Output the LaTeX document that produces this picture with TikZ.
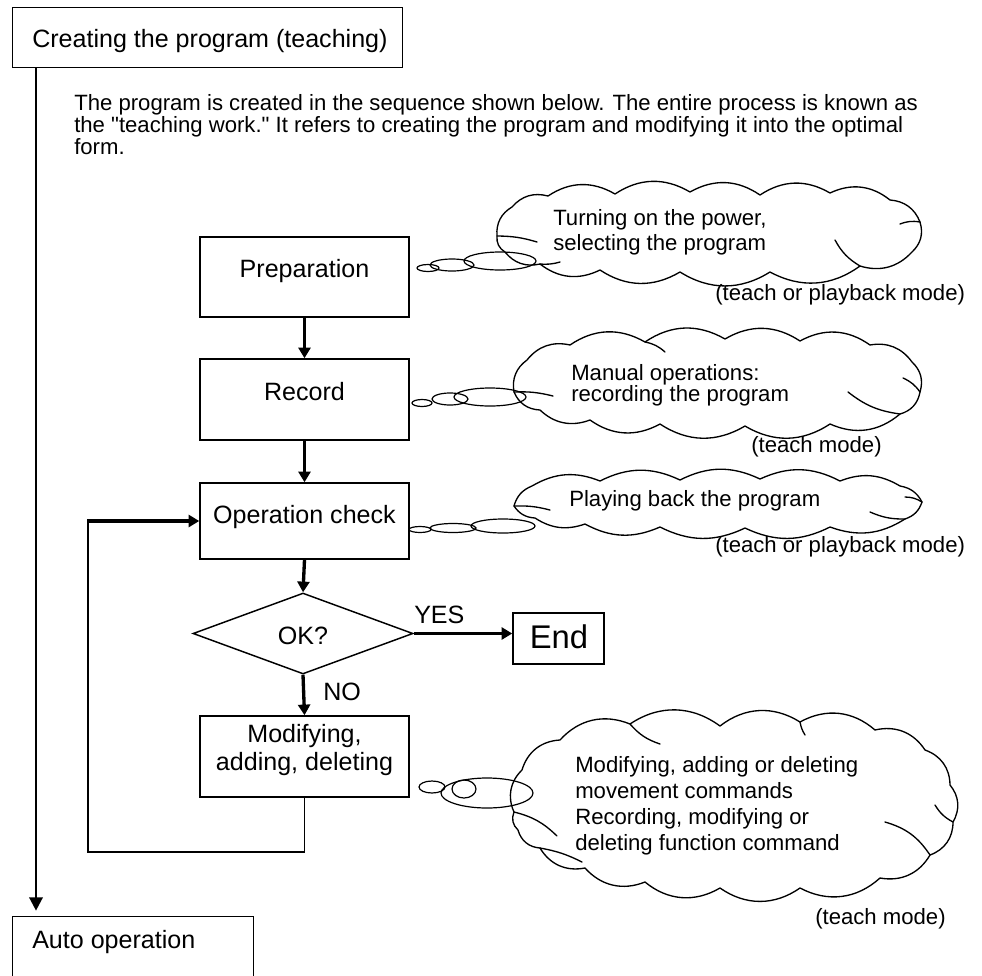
\documentclass[tikz,border=0pt]{standalone}
\usepackage{fontspec}
\setmainfont{Liberation Sans}
\newfontfamily\lsans{Liberation Sans}
\usetikzlibrary{shapes.geometric,arrows.meta}
\begin{document}
\begin{tikzpicture}[x=0.75pt,y=-0.75pt,
  box/.style={draw,line width=1.1pt,inner sep=0pt,minimum width=156.75pt},
  big/.style={font=\lsans\fontsize{18.8}{22}\selectfont,inner sep=0pt},
  small/.style={font=\lsans\fontsize{16.6}{19}\selectfont,inner sep=0pt},
  flow/.style={line width=2.5pt,-{Triangle[length=8pt,width=9pt]}},
  mainarrow/.style={line width=1.8pt,-{Triangle[length=10pt,width=10pt]},shorten >=4pt},
  thinl/.style={line width=1.1pt},
  cloudline/.style={line width=1pt,line cap=round,line join=round},
  tail/.style={line width=0.9pt}
]
\useasboundingbox (0,0) rectangle (982,975);

% title and auto boxes
\node[box,anchor=north west,minimum width=292.5pt,minimum height=45pt] (title) at (12,7) {};
\node[big,anchor=base west] (titletxt) at (32,47) {Creating the program (teaching)};
\node[box,anchor=north west,minimum width=180.75pt,minimum height=60pt] (auto) at (12,916) {};
\node[big,anchor=base west] (autotxt) at (32,948) {Auto operation};
\draw[mainarrow] ([xshift=18pt]title.south west) -- ([xshift=18pt]auto.north west);

% paragraph
\node[small,anchor=base west] (p1) at (74,110) {The program is created in the sequence shown below. The entire process is known as};
\node[small,anchor=base west] (p2) at (74,132) {the "teaching work." It refers to creating the program and modifying it into the optimal};
\node[small,anchor=base west] (p3) at (74,154) {form.};

% flow boxes
\node[box,minimum height=60pt] (prep) at (304.5,277) {};
\node[big,anchor=base] (preptxt) at (304.5,277) {Preparation};
\node[box,minimum height=60.75pt] (rec) at (304.5,399.5) {};
\node[big,anchor=base] (rectxt) at (304.5,400) {Record};
\node[box,minimum height=57pt] (chk) at (304.5,521) {};
\node[big,anchor=base] (chktxt) at (304.5,523) {Operation check};
\node[diamond,draw,line width=1.1pt,inner sep=0pt,minimum width=165pt,minimum height=60.75pt] (ok) at (303,633.5) {};
\node[big,anchor=base] (oktxt) at (303,644) {OK?};
\node[box,minimum height=60.75pt] (mod) at (304.5,756.5) {};
\node[big,anchor=base] (modtxt1) at (304.5,742) {Modifying,};
\node[big,anchor=base] (modtxt2) at (304.5,770) {adding, deleting};
\node[draw,line width=1.1pt,inner sep=0pt,minimum width=68.25pt,minimum height=38.25pt] (endb) at (558.5,638.5) {};
\node[font=\lsans\fontsize{24.6}{28}\selectfont,inner sep=0pt,anchor=base] (endtxt) at (559,648) {End};
\node[big,anchor=base west] (yes) at (414,623) {YES};
\node[big,anchor=base west] (no) at (323,700) {NO};

\draw[flow] (prep.south) -- (rec.north);
\draw[flow] (rec.south) -- (chk.north);
\draw[flow] (chk.south) -- (ok.north);
\draw[flow] (ok.south) -- (mod.north);
\draw[flow] (ok.east) -- (ok.east -| endb.west);
\coordinate (lb) at (88,852);
\draw[thinl] (mod.south) -- (mod.south |- lb) -- (lb) -- (lb |- chk.west);
\draw[flow] ([xshift=-0.5pt]lb |- chk.west) -- (chk.west);

% cloud 1
\draw[cloudline,bend left=32] (497,236) to (512,207) to (548,196) to (615,194) to (690,192) to (760,195) to (830,193) to (890,200) to (920,222) to (912,252) to (860,266) to (770,272) to (680,272) to (600,270) to (540,264) to (505,252) to (497,236);
\draw[cloudline] (497,236) to[bend left=8] (537,242);
\draw[cloudline] (540,264) to[bend right=10] (560,262);
\draw[cloudline] (860,266) to[bend left=15] (835,240);
\draw[cloudline] (920,222) to[bend right=15] (900,224);
\draw[tail] (428,268) ellipse [x radius=11, y radius=3.5];
\draw[tail] (452,265) ellipse [x radius=22, y radius=6];
\draw[tail] (500,261) ellipse [x radius=36, y radius=9];
\node[small,anchor=base west] (c1a) at (553,225) {Turning on the power,};
\node[small,anchor=base west] (c1b) at (553,250) {selecting the program};
\node[small,anchor=base west] (c1m) at (715,300) {(teach or playback mode)};

% cloud 2
\draw[cloudline,bend left=32] (514,392) to (527,360) to (570,345) to (645,342) to (725,339) to (800,341) to (870,345) to (912,362) to (920,392) to (900,414) to (830,424) to (745,426) to (660,424) to (590,420) to (540,410) to (514,392);
\draw[cloudline] (514,392) to[bend left=8] (553,396);
\draw[cloudline] (900,414) to[bend left=15] (848,392);
\draw[cloudline] (920,392) to[bend right=15] (903,378);
\draw[cloudline] (645,342) to[bend left=15] (665,352);
\draw[tail] (422,403) ellipse [x radius=10, y radius=3.5];
\draw[tail] (450,399) ellipse [x radius=18, y radius=6];
\draw[tail] (490,397) ellipse [x radius=36, y radius=9];
\node[small,anchor=base west] (c2a) at (571,380) {Manual operations:};
\node[small,anchor=base west] (c2b) at (571,401) {recording the program};
\node[small,anchor=base west] (c2m) at (751,452) {(teach mode)};

% cloud 3
\draw[cloudline,bend left=26] (514,506) to (532,486) to (600,481) to (680,480) to (760,479) to (840,481) to (900,486) to (922,502) to (905,519) to (830,527) to (745,528) to (660,527) to (585,524) to (535,518) to (514,506);
\draw[cloudline] (514,506) to[bend left=8] (550,510);
\draw[cloudline] (905,519) to[bend left=12] (870,512);
\draw[cloudline] (922,502) to[bend right=15] (905,497);
\draw[tail] (420,529.5) ellipse [x radius=11, y radius=3];
\draw[tail] (453,528) ellipse [x radius=23, y radius=4.5];
\draw[tail] (503,526) ellipse [x radius=32, y radius=7];
\node[small,anchor=base west] (c3a) at (569,506) {Playing back the program};
\node[small,anchor=base west] (c3m) at (715,552) {(teach or playback mode)};

% cloud 4
\draw[cloudline,bend left=35] (514,812) to (522,770) to (560,740) to (630,724) to (720,726) to (800,722) to (875,730) to (925,750) to (950,785) to (953,822) to (930,855) to (880,878) to (800,888) to (720,888) to (645,882) to (585,868) to (540,848) to (518,830) to (514,812);
\draw[cloudline] (630,724) to[bend right=15] (660,744);
\draw[cloudline] (514,812) to[bend left=15] (557,836);
\draw[cloudline] (540,848) to[bend left=8] (582,862);
\draw[cloudline] (930,855) to[bend right=20] (885,822);
\draw[cloudline] (953,822) to[bend left=15] (935,805);
\draw[cloudline] (800,722) to[bend right=10] (805,735);
\draw[tail] (432,787) ellipse [x radius=13, y radius=6];
\draw[tail] (464,789) ellipse [x radius=12, y radius=9];
\draw[tail] (487,793) ellipse [x radius=46, y radius=15];
\node[small,anchor=base west] (c4a) at (575,772) {Modifying, adding or deleting};
\node[small,anchor=base west] (c4b) at (575,798) {movement commands};
\node[small,anchor=base west] (c4c) at (575,824) {Recording, modifying or};
\node[small,anchor=base west] (c4d) at (575,850) {deleting function command};
\node[small,anchor=base west] (c4m) at (815,924) {(teach mode)};
\end{tikzpicture}
\end{document}
